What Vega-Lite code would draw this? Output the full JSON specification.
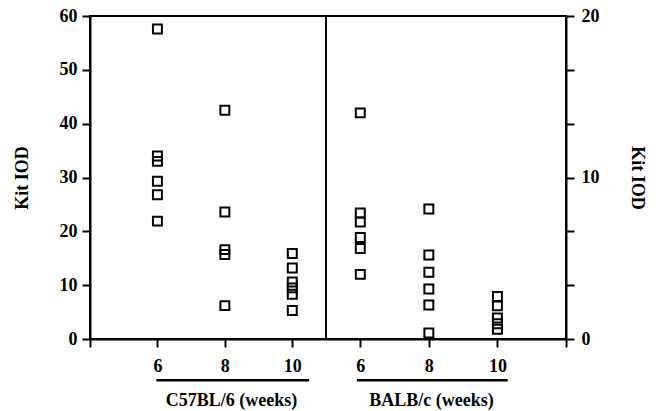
{
  "$schema": "https://vega.github.io/schema/vega-lite/v6.json",
  "autosize": {"type": "pad"},
  "padding": {"left": 12, "top": 6, "right": 5, "bottom": 5},
  "background": "white",
  "config": {
    "view": {"stroke": "black", "strokeWidth": 2},
    "axis": {
      "domainColor": "black", "domainWidth": 2, "tickColor": "black", "tickWidth": 2, "tickSize": 8,
      "labelFont": "Liberation Serif", "labelFontWeight": "bold", "labelFontSize": 18, "labelColor": "black",
      "titleFont": "Liberation Serif", "titleFontWeight": "bold", "titleFontSize": 18, "titleColor": "black",
      "grid": false, "labelFlush": false, "labelOverlap": false
    }
  },
  "datasets": {
    "kit": [
      {"strain": "C57BL/6", "week": 6, "iod": 57.6},
      {"strain": "C57BL/6", "week": 6, "iod": 34.0},
      {"strain": "C57BL/6", "week": 6, "iod": 33.0},
      {"strain": "C57BL/6", "week": 6, "iod": 29.3},
      {"strain": "C57BL/6", "week": 6, "iod": 26.8},
      {"strain": "C57BL/6", "week": 6, "iod": 21.9},
      {"strain": "C57BL/6", "week": 8, "iod": 42.5},
      {"strain": "C57BL/6", "week": 8, "iod": 23.6},
      {"strain": "C57BL/6", "week": 8, "iod": 16.6},
      {"strain": "C57BL/6", "week": 8, "iod": 15.7},
      {"strain": "C57BL/6", "week": 8, "iod": 6.2},
      {"strain": "C57BL/6", "week": 10, "iod": 15.9},
      {"strain": "C57BL/6", "week": 10, "iod": 13.2},
      {"strain": "C57BL/6", "week": 10, "iod": 10.6},
      {"strain": "C57BL/6", "week": 10, "iod": 9.5},
      {"strain": "C57BL/6", "week": 10, "iod": 8.3},
      {"strain": "C57BL/6", "week": 10, "iod": 5.3},
      {"strain": "BALB/c", "week": 6, "iod": 14.0},
      {"strain": "BALB/c", "week": 6, "iod": 7.8},
      {"strain": "BALB/c", "week": 6, "iod": 7.25},
      {"strain": "BALB/c", "week": 6, "iod": 6.28},
      {"strain": "BALB/c", "week": 6, "iod": 5.6},
      {"strain": "BALB/c", "week": 6, "iod": 4.0},
      {"strain": "BALB/c", "week": 8, "iod": 8.05},
      {"strain": "BALB/c", "week": 8, "iod": 5.2},
      {"strain": "BALB/c", "week": 8, "iod": 4.13},
      {"strain": "BALB/c", "week": 8, "iod": 3.1},
      {"strain": "BALB/c", "week": 8, "iod": 2.1},
      {"strain": "BALB/c", "week": 8, "iod": 0.37},
      {"strain": "BALB/c", "week": 10, "iod": 2.63},
      {"strain": "BALB/c", "week": 10, "iod": 2.05},
      {"strain": "BALB/c", "week": 10, "iod": 1.3},
      {"strain": "BALB/c", "week": 10, "iod": 0.95},
      {"strain": "BALB/c", "week": 10, "iod": 0.6}
    ],
    "underline": [
      {"strain": "C57BL/6", "start": 5.97, "end": 10.5, "level": -7.67},
      {"strain": "BALB/c", "start": 5.9, "end": 10.3, "level": -2.56}
    ]
  },
  "spacing": 0,
  "bounds": "flush",
  "hconcat": [
    {
      "width": 236,
      "height": 323,
      "layer": [
        {
          "data": {"name": "kit"},
          "transform": [{"filter": "datum.strain == 'C57BL/6'"}],
          "mark": {"type": "point", "shape": "square", "filled": false, "stroke": "black", "strokeWidth": 2, "size": 80, "opacity": 1},
          "encoding": {
            "x": {"field": "week", "type": "quantitative", "scale": {"domain": [4, 11], "nice": false, "zero": false},
              "axis": {"values": [4, 6, 8, 10], "labelExpr": "datum.value == 4 ? '' : datum.label", "labelPadding": 10,
                "title": "C57BL/6 (weeks)", "titleX": 141, "titleY": 66, "titleBaseline": "alphabetic", "titleAlign": "center"}},
            "y": {"field": "iod", "type": "quantitative", "scale": {"domain": [0, 60], "nice": false},
              "axis": {"values": [0, 10, 20, 30, 40, 50, 60], "labelPadding": 5,
                "title": "Kit IOD", "titleX": -68, "titleY": 161.5, "titleAngle": -90, "titleBaseline": "middle", "titleAlign": "center"}}
          }
        },
        {
          "data": {"name": "underline"},
          "transform": [{"filter": "datum.strain == 'C57BL/6'"}],
          "mark": {"type": "rule", "stroke": "black", "strokeWidth": 2.5, "clip": false},
          "encoding": {
            "x": {"field": "start", "type": "quantitative"},
            "x2": {"field": "end"},
            "y": {"field": "level", "type": "quantitative"}
          }
        }
      ]
    },
    {
      "width": 240,
      "height": 323,
      "layer": [
        {
          "data": {"name": "kit"},
          "transform": [{"filter": "datum.strain == 'BALB/c'"}],
          "mark": {"type": "point", "shape": "square", "filled": false, "stroke": "black", "strokeWidth": 2, "size": 80, "opacity": 1},
          "encoding": {
            "x": {"field": "week", "type": "quantitative", "scale": {"domain": [5, 12], "nice": false, "zero": false},
              "axis": {"values": [6, 8, 10, 12], "labelExpr": "datum.value == 12 ? '' : datum.label", "labelPadding": 10,
                "title": "BALB/c (weeks)", "titleX": 105, "titleY": 66, "titleBaseline": "alphabetic", "titleAlign": "center"}},
            "y": {"field": "iod", "type": "quantitative", "scale": {"domain": [0, 20], "nice": false},
              "axis": {"orient": "right", "values": [0, 3.3333333, 6.6666667, 10, 13.3333333, 16.6666667, 20],
                "labelExpr": "(datum.value == 0 || datum.value == 10 || datum.value == 20) ? datum.label : ''", "labelPadding": 7,
                "title": "Kit IOD", "titleX": 70, "titleY": 161.5, "titleAngle": 90, "titleBaseline": "middle", "titleAlign": "center"}}
          }
        },
        {
          "data": {"name": "underline"},
          "transform": [{"filter": "datum.strain == 'BALB/c'"}],
          "mark": {"type": "rule", "stroke": "black", "strokeWidth": 2.5, "clip": false},
          "encoding": {
            "x": {"field": "start", "type": "quantitative"},
            "x2": {"field": "end"},
            "y": {"field": "level", "type": "quantitative"}
          }
        }
      ]
    }
  ]
}
